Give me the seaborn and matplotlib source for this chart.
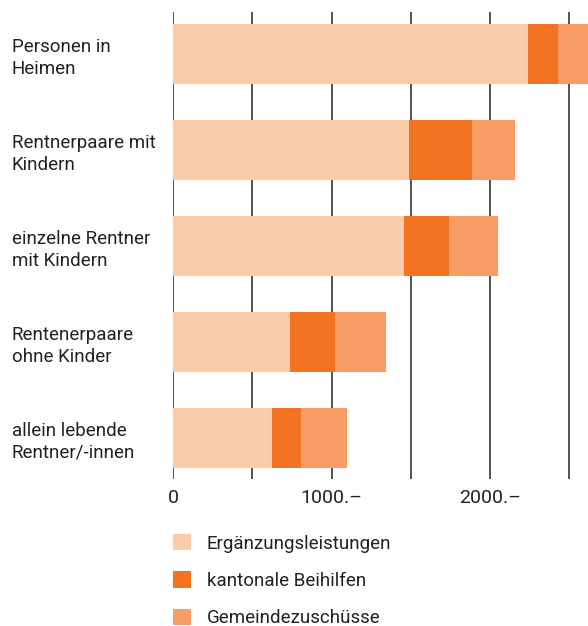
import matplotlib
matplotlib.use("Agg")
import matplotlib.pyplot as plt
from matplotlib.patches import Patch
import numpy as np
import pandas as pd
import seaborn as sns

# Data (CHF per month)
categories = [
    "Personen in\nHeimen",
    "Rentnerpaare mit\nKindern",
    "einzelne Rentner\nmit Kindern",
    "Rentenerpaare\nohne Kinder",
    "allein lebende\nRentner/-innen",
]
ergaenzung = [2238, 1488, 1457, 738, 624]
kantonal = [190, 397, 283, 283, 183]
gemeinde = [300, 271, 309, 322, 290]

series_names = ["Ergänzungsleistungen", "kantonale Beihilfen", "Gemeindezuschüsse"]
colors = ["#FBCCA9", "#F37321", "#F99D66"]

sns.set_style("white")
plt.rcParams["font.family"] = ["Roboto", "DejaVu Sans"]

df = pd.DataFrame({
    "cat": categories,
    "s1": ergaenzung,
    "s2": np.array(ergaenzung) + np.array(kantonal),
    "s3": np.array(ergaenzung) + np.array(kantonal) + np.array(gemeinde),
})

fig = plt.figure(figsize=(5.88, 6.26), dpi=100)
ax = fig.add_axes([173 / 588, 1 - 479 / 626, 1 - 173 / 588, (479 - 12) / 626])

# stacked bars: draw cumulative totals, largest first
for col, c in zip(["s3", "s2", "s1"], colors[::-1]):
    sns.barplot(data=df, x=col, y="cat", orient="h", color=c, width=0.63,
                saturation=1, linewidth=0, ax=ax, zorder=2)

ax.set_xlim(0, 2617)
ax.set_ylim(4.43, -0.44)
ax.set_xticks([0, 500, 1000, 1500, 2000, 2500])
ax.set_xticklabels(["0", "", "1000.–", "", "2000.–", ""])
ax.grid(axis="x", color="#444444", lw=1.3, zorder=0)
ax.set_axisbelow(True)
for s in ax.spines.values():
    s.set_visible(False)
ax.set_xlabel("")
ax.set_ylabel("")
ax.tick_params(axis="x", length=0, pad=7, labelsize=14, labelcolor="#222222")
ax.tick_params(axis="y", length=0, pad=116, labelsize=13.5, labelcolor="#222222")
for lbl in ax.get_yticklabels():
    lbl.set_horizontalalignment("left")
    lbl.set_linespacing(1.3)

handles = [Patch(facecolor=c, edgecolor="none") for c in colors]
fig.legend(handles, series_names, loc="upper left",
           bbox_to_anchor=(173 / 588, 1 - 534 / 626), frameon=False,
           borderpad=0, borderaxespad=0, handlelength=0.96, handleheight=0.96,
           handletextpad=0.85, labelspacing=1.0, fontsize=13.5,
           labelcolor="#222222")

fig.savefig("out.png", dpi=100)
